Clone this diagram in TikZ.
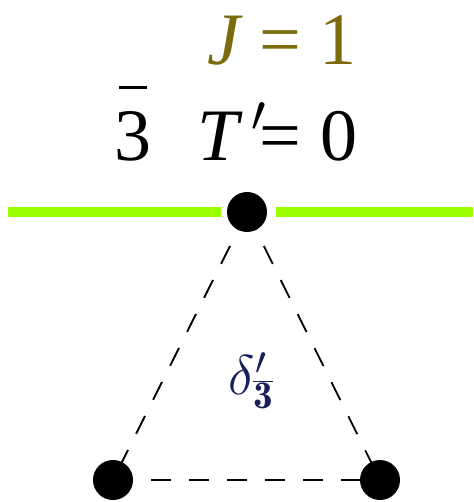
\documentclass[tikz,border=0pt]{standalone}
\usepackage{fix-cm}
\usepackage{fontspec}
\newfontfamily\tms{Liberation Serif}
\definecolor{lime}{HTML}{9CFF00}
\definecolor{olivetxt}{rgb}{0.48,0.42,0.05}
\definecolor{navytxt}{rgb}{0.1,0.12,0.35}
\begin{document}
\begin{tikzpicture}[x=1pt,y=-1pt,
  dot/.style={circle,fill=black,inner sep=0pt,minimum size=40pt},
  dashline/.style={line width=1.8pt,dash pattern=on 20pt off 18pt},
  greenline/.style={lime,line width=10pt},
  bigtxt/.style={inner sep=0pt,anchor=base,font=\fontsize{74}{80}\selectfont\tms}]
\useasboundingbox (0,0) rectangle (473,502);
% green line
\coordinate (gl) at (8,212);
\coordinate (gr) at (473,212);
\coordinate (gm1) at (221,212);
\coordinate (gm2) at (276,212);
\draw[greenline] (gl) -- (gm1);
\draw[greenline] (gm2) -- (gr);
% dots
\node[dot] (top) at (247,212) {};
\node[dot] (bl) at (113,480) {};
\node[dot] (br) at (380,480) {};
% dashed triangle
\draw[dashline] (top.center) -- (bl.center);
\draw[dashline] (top.center) -- (br.center);
\draw[dashline] (bl.center) -- (br.center);
% texts
\node[bigtxt,text=olivetxt] (J) at (224,65) {\itshape J};
\node[bigtxt,text=olivetxt] (eq1) at (280,65) {=};
\node[bigtxt,text=olivetxt] (one) at (338,65) {1};
\node[bigtxt] (three) at (133,161) {3};
\draw[line width=3pt] ([xshift=-14pt,yshift=73pt]three.base) -- ([xshift=14pt,yshift=73pt]three.base);
\node[bigtxt] (T) at (218,161) {\itshape T};
\node[inner sep=0pt,anchor=base,font=\fontsize{74}{80}\selectfont] (pr) at (259,158) {$\vphantom{T}'$};
\node[bigtxt] (eq2) at (280,161) {=};
\node[bigtxt] (zero) at (339,161) {0};
\node[inner sep=0pt,text=navytxt,font=\fontsize{56}{60}\selectfont] (delta) at (251,381) {$\delta'_{\overline{\mathbf 3}}$};
\end{tikzpicture}
\end{document}
